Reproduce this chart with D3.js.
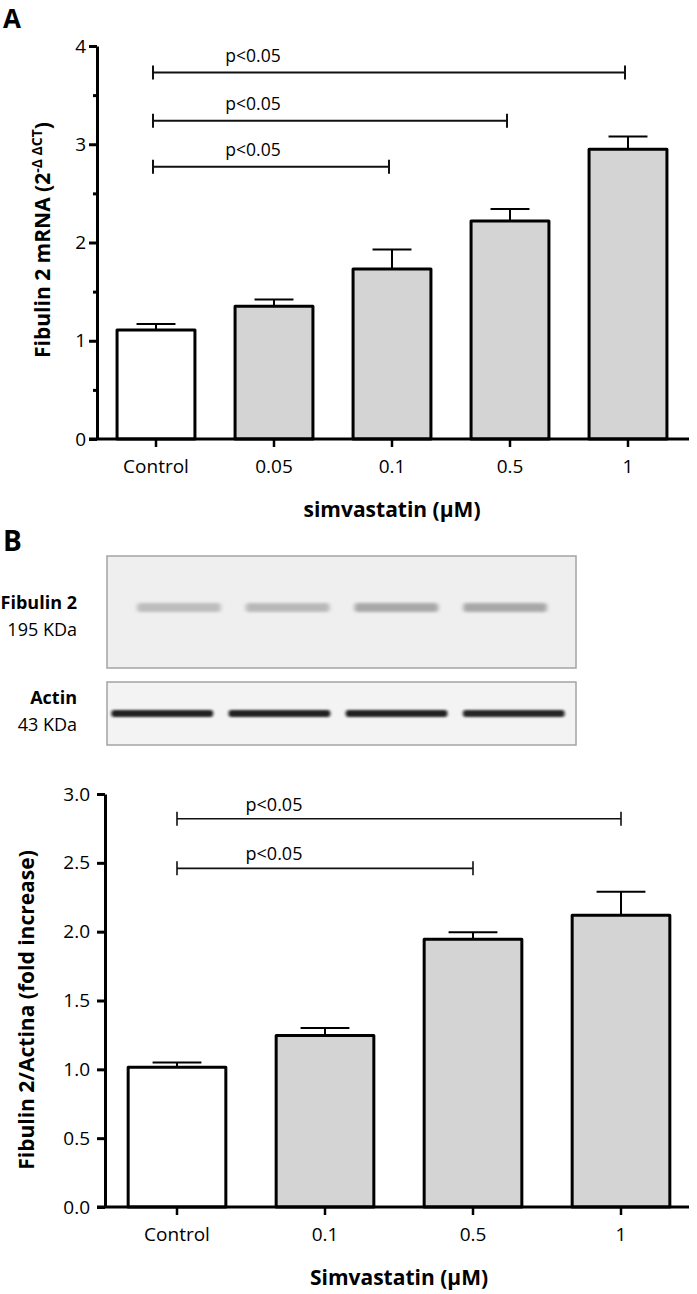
<!DOCTYPE html>
<html>
<head>
<meta charset="utf-8">
<script src="https://cdn.jsdelivr.net/npm/d3@7"></script>
<style>
  body { margin: 0; background: #fff; }
  svg { display: block; font-family: "Open Sans", sans-serif; }
  .axis text { font-family: "Open Sans", sans-serif; font-size: 19px; fill: #000; }
  .axis path, .axis line { stroke: #000; }
</style>
</head>
<body>
<svg id="chart" width="697" height="1294"></svg>
<script>
// panel A - fibulin 2 mRNA
var catsA = ["Control", "0.05", "0.1", "0.5", "1"];
var meanA = [1.11, 1.35, 1.73, 2.22, 2.95];
var semA = [0.06, 0.07, 0.20, 0.12, 0.13];
var ticksA = [0, 1, 2, 3, 4];
var minorTicksA = [0.5, 1.5, 2.5, 3.5];
var sigToA = ["0.1", "0.5", "1"];
var sigYA = [2.77, 3.24, 3.73];

// panel B - fibulin 2 / actin
var catsB = ["Control", "0.1", "0.5", "1"];
var meanB = [1.015, 1.245, 1.945, 2.12];
var semB = [0.035, 0.055, 0.05, 0.17];
var ticksB = [0, 0.5, 1, 1.5, 2, 2.5, 3];
var sigToB = ["0.5", "1"];
var sigYB = [2.46, 2.82];

// blot band strength per lane
var fibulinBand = [0.6, 0.65, 0.85, 0.85];
var actinBand = [0.95, 0.95, 0.95, 0.92];

var svg = d3.select("#chart");

var defs = svg.append("defs");
defs.append("filter").attr("id", "blurSoft").attr("x", "-20%").attr("y", "-200%").attr("width", "140%").attr("height", "500%")
    .append("feGaussianBlur").attr("stdDeviation", "2 1.6");
defs.append("filter").attr("id", "blurHard").attr("x", "-20%").attr("y", "-200%").attr("width", "140%").attr("height", "500%")
    .append("feGaussianBlur").attr("stdDeviation", "1.5 1");

function barPanel(opts) {
    var g = svg.append("g");

    var x = d3.scaleBand()
        .domain(opts.cats)
        .range(opts.xRange)
        .paddingInner(0.34)
        .paddingOuter(0.17);

    var y = d3.scaleLinear()
        .domain(opts.yDomain)
        .range(opts.yRange);

    var bw = x.bandwidth();
    var y0 = y(0);
    var cx = function (c) { return x(c) + bw / 2; };

    var data = opts.cats.map(function (c, i) {
        return { cat: c, mean: opts.mean[i], sem: opts.sem[i], i: i };
    });

    // upper error bars
    g.selectAll("line.err")
        .data(data)
        .enter().append("line")
        .attr("class", "err")
        .attr("x1", function (d) { return cx(d.cat); })
        .attr("x2", function (d) { return cx(d.cat); })
        .attr("y1", function (d) { return y(d.mean); })
        .attr("y2", function (d) { return y(d.mean + d.sem); })
        .attr("stroke", "#000")
        .attr("stroke-width", 2);

    g.selectAll("line.cap")
        .data(data)
        .enter().append("line")
        .attr("class", "cap")
        .attr("x1", function (d) { return cx(d.cat) - bw / 4; })
        .attr("x2", function (d) { return cx(d.cat) + bw / 4; })
        .attr("y1", function (d) { return y(d.mean + d.sem); })
        .attr("y2", function (d) { return y(d.mean + d.sem); })
        .attr("stroke", "#000")
        .attr("stroke-width", 2);

    g.selectAll("rect.bar")
        .data(data)
        .enter().append("rect")
        .attr("class", "bar")
        .attr("x", function (d) { return x(d.cat); })
        .attr("width", bw)
        .attr("y", function (d) { return y(d.mean); })
        .attr("height", function (d) { return y0 - y(d.mean); })
        .attr("fill", function (d) { return d.i === 0 ? "#ffffff" : "#d4d4d4"; })
        .attr("stroke", "#000")
        .attr("stroke-width", 3)
        .attr("stroke-linejoin", "round");

    // y axis
    var yAxis = g.append("g")
        .attr("class", "axis")
        .attr("transform", "translate(" + opts.axisX + ",0)")
        .call(d3.axisLeft(y)
            .tickValues(opts.ticks)
            .tickSize(8)
            .tickSizeOuter(0)
            .tickPadding(opts.tickPad)
            .tickFormat(opts.fmt));
    yAxis.select(".domain").attr("stroke-width", 3);
    yAxis.selectAll(".tick line").attr("stroke-width", 3);

    if (opts.minor) {
        var minorAxis = g.append("g")
            .attr("class", "axis")
            .attr("transform", "translate(" + opts.axisX + ",0)")
            .call(d3.axisLeft(y).tickValues(opts.minor).tickSize(4).tickFormat(""));
        minorAxis.select(".domain").remove();
        minorAxis.selectAll(".tick line").attr("stroke-width", 3);
    }

    // x axis
    var xAxis = g.append("g")
        .attr("class", "axis")
        .attr("transform", "translate(0," + y0 + ")")
        .call(d3.axisBottom(x).tickSize(8).tickPadding(13));
    xAxis.select(".domain").remove();
    xAxis.selectAll(".tick line").attr("stroke-width", 2.5);

    g.append("line")
        .attr("x1", opts.axisX - 8)
        .attr("x2", opts.xEnd)
        .attr("y1", y0)
        .attr("y2", y0)
        .attr("stroke", "#000")
        .attr("stroke-width", 3);

    // significance brackets
    var sig = opts.sigTo.map(function (t, i) {
        return { from: opts.cats[0], to: t, y: opts.sigY[i] };
    });

    var sg = g.selectAll("g.sig")
        .data(sig)
        .enter().append("g")
        .attr("class", "sig");

    sg.append("path")
        .attr("d", function (d) {
            var x1 = cx(d.from) + opts.sigShift, x2 = cx(d.to) + opts.sigShift, yy = y(d.y);
            return "M" + x1 + "," + (yy - 7) + "V" + (yy + 7) +
                "M" + x1 + "," + yy + "H" + x2 +
                "M" + x2 + "," + (yy - 7) + "V" + (yy + 7);
        })
        .attr("fill", "none")
        .attr("stroke", "#111")
        .attr("stroke-width", opts.sigStroke);

    sg.append("text")
        .attr("x", function (d) { return cx(d.from) + 97; })
        .attr("y", function (d) { return y(d.y) - opts.sigLabelDy; })
        .attr("text-anchor", "middle")
        .style("font-size", opts.sigFont + "px")
        .attr("fill", "#000")
        .text("p<0.05");

    // x title
    g.append("text")
        .attr("x", (opts.xRange[0] + opts.xRange[1]) / 2)
        .attr("y", opts.xTitleY)
        .attr("text-anchor", "middle")
        .style("font-size", "21px")
        .style("font-weight", "bold")
        .text(opts.xTitle);

    return g;
}

// ---- panel A ----
svg.append("text")
    .attr("x", 3).attr("y", 28)
    .style("font-size", "26px").style("font-weight", "bold")
    .text("A");

barPanel({
    cats: catsA, mean: meanA, sem: semA,
    ticks: ticksA, minor: minorTicksA, fmt: d3.format("d"),
    xRange: [97, 687], yDomain: [0, 4], yRange: [439, 46],
    axisX: 97, xEnd: 689, tickPad: 3,
    sigTo: sigToA, sigY: sigYA, sigShift: -3, sigStroke: 2, sigLabelDy: 11, sigFont: 17.5,
    xTitle: "simvastatin (\u03bcM)", xTitleY: 517
});

var yTitleA = svg.append("text")
    .attr("transform", "translate(50,240) rotate(-90)")
    .attr("text-anchor", "middle")
    .style("font-size", "21px")
    .style("font-weight", "bold");
yTitleA.append("tspan").text("Fibulin 2 mRNA (2");
yTitleA.append("tspan").attr("dy", -8).style("font-size", "14px").text("-\u0394 \u0394CT");
yTitleA.append("tspan").attr("dy", 8).text(")");

// ---- panel B ----
svg.append("text")
    .attr("x", 3).attr("y", 551)
    .style("font-size", "28px").style("font-weight", "bold")
    .text("B");

// western blot strips
var topLane = d3.scaleBand().domain(catsB).range([118, 566]).padding(0.12);
var botLane = d3.scaleBand().domain(catsB).range([106, 570]).paddingInner(0.08).paddingOuter(0.02);

svg.append("rect")
    .attr("x", 107).attr("y", 556).attr("width", 469).attr("height", 112)
    .attr("fill", "#efefef").attr("stroke", "#a4a4a4").attr("stroke-width", 1.5);

svg.selectAll("rect.fib")
    .data(catsB)
    .enter().append("rect")
    .attr("class", "fib")
    .attr("x", function (d) { return topLane(d) + 6; })
    .attr("width", topLane.bandwidth() - 12)
    .attr("y", 603)
    .attr("height", 9)
    .attr("rx", 3)
    .attr("fill", "#9c9c9c")
    .attr("opacity", function (d, i) { return fibulinBand[i]; })
    .attr("filter", "url(#blurSoft)");

svg.append("rect")
    .attr("x", 107).attr("y", 682).attr("width", 469).attr("height", 63)
    .attr("fill", "#f3f3f3").attr("stroke", "#a4a4a4").attr("stroke-width", 1.5);

svg.selectAll("rect.act")
    .data(catsB)
    .enter().append("rect")
    .attr("class", "act")
    .attr("x", function (d) { return botLane(d) + 3; })
    .attr("width", botLane.bandwidth() - 6)
    .attr("y", 710)
    .attr("height", 7)
    .attr("rx", 3)
    .attr("fill", "#121212")
    .attr("opacity", function (d, i) { return actinBand[i]; })
    .attr("filter", "url(#blurHard)");

var blotLabels = [
    { t: "Fibulin 2", y: 609, bold: true },
    { t: "195 KDa", y: 636, bold: false },
    { t: "Actin", y: 704, bold: true },
    { t: "43 KDa", y: 731, bold: false }
];
svg.selectAll("text.blot")
    .data(blotLabels)
    .enter().append("text")
    .attr("class", "blot")
    .attr("x", 77)
    .attr("y", function (d) { return d.y; })
    .attr("text-anchor", "end")
    .style("font-size", "18px")
    .style("font-weight", function (d) { return d.bold ? "bold" : "normal"; })
    .text(function (d) { return d.t; });

barPanel({
    cats: catsB, mean: meanB, sem: semB,
    ticks: ticksB, minor: null, fmt: d3.format(".1f"),
    xRange: [103, 695], yDomain: [0, 3], yRange: [1207, 794],
    axisX: 105, xEnd: 689, tickPad: 7,
    sigTo: sigToB, sigY: sigYB, sigShift: 0, sigStroke: 1.6, sigLabelDy: 8, sigFont: 18,
    xTitle: "Simvastatin (\u03bcM)", xTitleY: 1285
});

svg.append("text")
    .attr("transform", "translate(34,1010) rotate(-90)")
    .attr("text-anchor", "middle")
    .style("font-size", "21px")
    .style("font-weight", "bold")
    .text("Fibulin 2/Actina (fold increase)");
</script>
</body>
</html>
